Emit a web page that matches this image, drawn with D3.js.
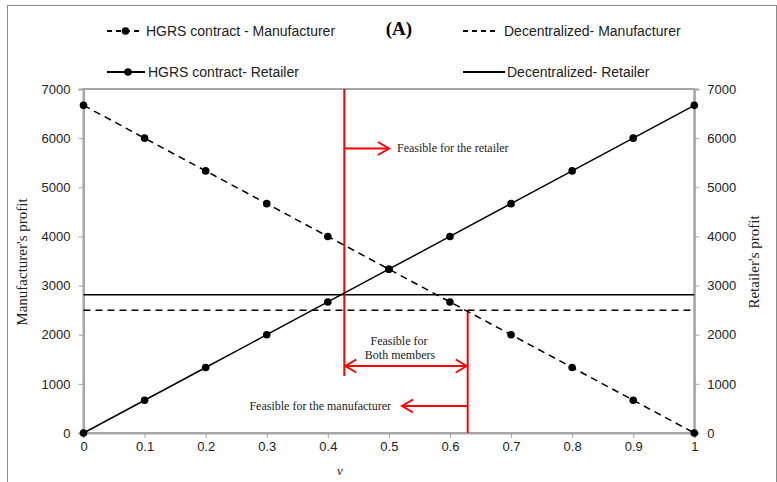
<!DOCTYPE html>
<html><head><meta charset="utf-8">
<script src="https://cdn.jsdelivr.net/npm/d3@7"></script>
<style>
body{margin:0;background:#fff;}
svg{display:block;}
.tick text{font-family:"Liberation Sans Narrow","Arial Narrow","Liberation Sans",sans-serif;font-size:13px;fill:#222;}
</style></head><body>
<svg id="c" width="777" height="482"></svg>
<script>
// ---- data ----
const vValues = [0,0.1,0.2,0.3,0.4,0.5,0.6,0.7,0.8,0.9,1];
const hgrsManufacturer = [6667,6000,5333,4667,4000,3333,2667,2000,1333,667,0];
const hgrsRetailer = [0,667,1333,2000,2667,3333,4000,4667,5333,6000,6667];
const decentralizedManufacturer = 2500;
const decentralizedRetailer = 2815;
const xTicks = [0,0.1,0.2,0.3,0.4,0.5,0.6,0.7,0.8,0.9,1];
const yTicks = [0,1000,2000,3000,4000,5000,6000,7000];
const vRetailerFeasible = 0.427;   // left red boundary
const vManufacturerFeasible = 0.629; // right red boundary

const svg = d3.select("#c");
const L=83.5, R=694.3, T=89, B=433;
const x = d3.scaleLinear().domain([0,1]).range([L,R]);
const y = d3.scaleLinear().domain([0,7000]).range([B,T]);

// outer frame
svg.append("rect").attr("x",7.5).attr("y",5.5).attr("width",769).attr("height",490)
  .attr("fill","none").attr("stroke","#8c8c8c").attr("stroke-width",1);

const gray="#a6a6a6";
// plot area border
svg.append("rect").attr("x",L).attr("y",T).attr("width",R-L).attr("height",B-T)
  .attr("fill","none").attr("stroke",gray).attr("stroke-width",2);

// axes
const ax = svg.append("g").attr("transform",`translate(0,${B})`)
  .call(d3.axisBottom(x).tickValues(xTicks).tickFormat(d=>d3.format("")(d)).tickSize(5).tickPadding(4));
const ayL = svg.append("g").attr("transform",`translate(${L},0)`)
  .call(d3.axisLeft(y).tickValues(yTicks).tickSize(5).tickPadding(8).tickFormat(d3.format("d")));
const ayR = svg.append("g").attr("transform",`translate(${R},0)`)
  .call(d3.axisRight(y).tickValues(yTicks).tickSize(5).tickPadding(8).tickFormat(d3.format("d")));
[ax,ayL,ayR].forEach(g=>{
  g.select(".domain").attr("stroke",gray).attr("stroke-width",2);
  g.selectAll(".tick line").attr("stroke",gray).attr("stroke-width",1);
});

// decentralized lines
svg.append("line").attr("x1",L).attr("x2",R).attr("y1",y(decentralizedRetailer)).attr("y2",y(decentralizedRetailer))
  .attr("stroke","#000").attr("stroke-width",1.5);
svg.append("line").attr("x1",L).attr("x2",R).attr("y1",y(decentralizedManufacturer)).attr("y2",y(decentralizedManufacturer))
  .attr("stroke","#000").attr("stroke-width",1.5).attr("stroke-dasharray","7,5");

// red annotations
const red="#ff0000";
const ann = svg.append("g").attr("stroke",red).attr("stroke-width",2).attr("fill","none");
const x1=x(vRetailerFeasible), x2=x(vManufacturerFeasible);
ann.append("line").attr("x1",x1).attr("x2",x1).attr("y1",T).attr("y2",376);
ann.append("line").attr("x1",x2).attr("x2",x2).attr("y1",y(decentralizedManufacturer)).attr("y2",B);
function arrowHead(tx,ty,dir){ // dir: +1 points right, -1 points left
  ann.append("path").attr("d",`M${tx-dir*11},${ty-6.5}L${tx},${ty}L${tx-dir*11},${ty+6.5}`);
}
// retailer arrow
ann.append("line").attr("x1",x1).attr("x2",389).attr("y1",148.5).attr("y2",148.5);
arrowHead(389,148.5,1);
// both members double arrow
ann.append("line").attr("x1",x1).attr("x2",x2).attr("y1",366).attr("y2",366);
arrowHead(x1+1,366,-1); arrowHead(x2-1,366,1);
// manufacturer arrow
ann.append("line").attr("x1",x2).attr("x2",402).attr("y1",406).attr("y2",406);
arrowHead(402,406,-1);

const serif='"Liberation Serif","Times New Roman",serif';
svg.append("text").attr("x",397).attr("y",152).attr("font-family",serif).attr("font-size",12).attr("fill","#222").text("Feasible for the retailer");
svg.append("text").attr("x",399).attr("y",345).attr("text-anchor","middle").attr("font-family",serif).attr("font-size",12).attr("fill","#222").text("Feasible for");
svg.append("text").attr("x",400).attr("y",359).attr("text-anchor","middle").attr("font-family",serif).attr("font-size",12).attr("fill","#222").text("Both members");
svg.append("text").attr("x",391).attr("y",410).attr("text-anchor","end").attr("font-family",serif).attr("font-size",12).attr("fill","#222").text("Feasible for the manufacturer");

// HGRS lines
const line = d3.line().x((d,i)=>x(vValues[i])).y(d=>y(d));
svg.append("path").attr("d",line(hgrsManufacturer)).attr("fill","none").attr("stroke","#000")
  .attr("stroke-width",1.5).attr("stroke-dasharray","7,5");
svg.append("path").attr("d",line(hgrsRetailer)).attr("fill","none").attr("stroke","#000").attr("stroke-width",1.5);
[hgrsManufacturer,hgrsRetailer].forEach(s=>{
  svg.append("g").selectAll("circle").data(s).join("circle")
    .attr("cx",(d,i)=>x(vValues[i])).attr("cy",d=>y(d)).attr("r",3.8).attr("fill","#000");
});

// axis titles
svg.append("text").attr("transform","translate(27,262) rotate(-90)").attr("text-anchor","middle")
  .attr("font-family",serif).attr("font-size",15).attr("fill","#222").text("Manufacturer's profit");
svg.append("text").attr("transform","translate(759,262) rotate(-90)").attr("text-anchor","middle")
  .attr("font-family",serif).attr("font-size",15).attr("fill","#222").text("Retailer's profit");
svg.append("text").attr("x",340).attr("y",475).attr("text-anchor","middle").attr("font-family",serif)
  .attr("font-style","italic").attr("font-size",13).attr("fill","#222").text("v");

// legend
const lf='"Liberation Sans Narrow","Arial Narrow","Liberation Sans",sans-serif';
const leg = [
  {x1:107,x2:140,y:31,dash:"5,4",marker:true,label:"HGRS contract - Manufacturer",tx:146},
  {x1:463,x2:495,y:31,dash:"5,4",marker:false,label:"Decentralized- Manufacturer",tx:504},
  {x1:107,x2:145,y:72,dash:null,marker:true,label:"HGRS contract- Retailer",tx:148},
  {x1:463,x2:505,y:72,dash:null,marker:false,label:"Decentralized- Retailer",tx:507}
];
leg.forEach(d=>{
  svg.append("line").attr("x1",d.x1).attr("x2",d.x2).attr("y1",d.y).attr("y2",d.y)
    .attr("stroke","#000").attr("stroke-width",1.8).attr("stroke-dasharray",d.dash);
  if(d.marker) svg.append("circle").attr("cx",(d.x1+d.x2)/2+2).attr("cy",d.y).attr("r",3.8).attr("fill","#000");
  svg.append("text").attr("x",d.tx).attr("y",d.y+5).attr("font-family",lf).attr("font-size",14).attr("fill","#222").text(d.label);
});
svg.append("text").attr("x",399).attr("y",35).attr("text-anchor","middle").attr("font-family",serif)
  .attr("font-weight","bold").attr("font-size",19).attr("fill","#000").text("(A)");
</script>
</body></html>
